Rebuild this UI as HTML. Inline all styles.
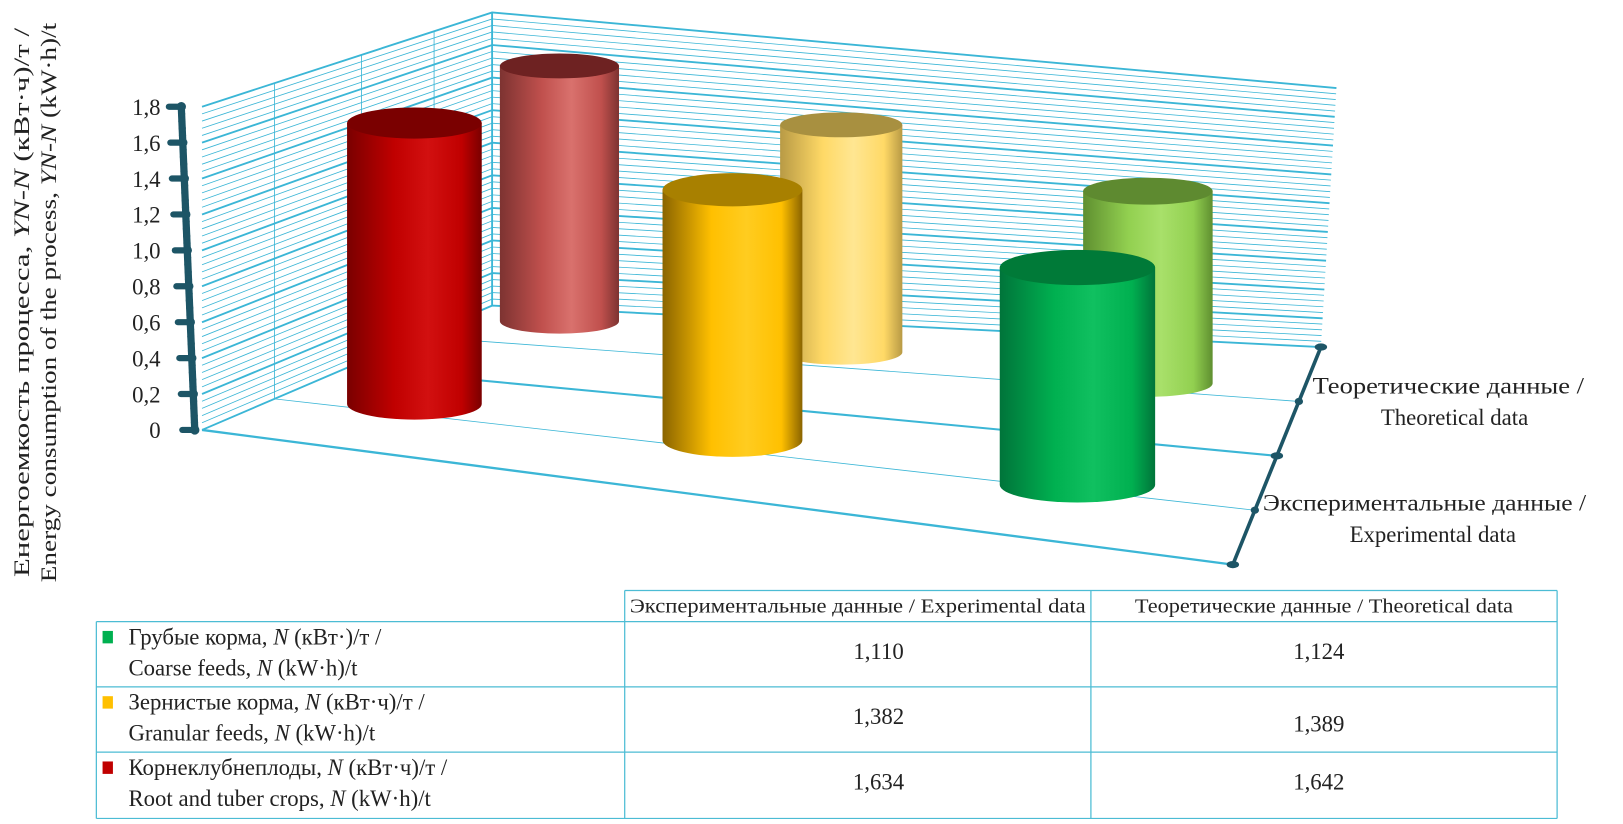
<!DOCTYPE html>
<html><head><meta charset="utf-8"><style>
html,body{margin:0;padding:0;background:#fff;}
svg{display:block;font-family:"Liberation Serif","DejaVu Serif",serif;}
</style></head><body>
<svg id="chart" width="1623" height="824" viewBox="0 0 1623 824" xmlns="http://www.w3.org/2000/svg">
<defs id="defs"></defs>
<g transform="scale(1.036)">
<g id="walls"></g>
<g id="bars"></g>
<g id="axes"></g>
<g font-size="21" fill="#222">
<text transform="translate(28,292) rotate(-90)" text-anchor="middle" textLength="530" lengthAdjust="spacingAndGlyphs">Енергоемкость процесса, <tspan font-style="italic">YN-N</tspan> (кВт·ч)/т /</text>
<text transform="translate(54,292) rotate(-90)" text-anchor="middle" textLength="540" lengthAdjust="spacingAndGlyphs">Energy consumption of the process, <tspan font-style="italic">YN-N</tspan> (kW·h)/t</text>
</g>
<g font-size="22" fill="#222">
<text x="1398" y="380" text-anchor="middle" textLength="262" lengthAdjust="spacingAndGlyphs">Теоретические данные /</text>
<text x="1404" y="410" text-anchor="middle">Theoretical data</text>
<text x="1375" y="493" text-anchor="middle" textLength="312" lengthAdjust="spacingAndGlyphs">Экспериментальные данные /</text>
<text x="1383" y="523" text-anchor="middle">Experimental data</text>
</g>
<g id="table"></g>
</g>
</svg>
<script>
const categories = ["Грубые корма", "Зернистые корма", "Корнеклубнеплоды"];
const experimental = [1.110, 1.382, 1.634];
const theoretical = [1.124, 1.389, 1.642];
const yTicks = [0, 0.2, 0.4, 0.6, 0.8, 1.0, 1.2, 1.4, 1.6, 1.8];
const yTickLabels = ["0","0,2","0,4","0,6","0,8","1,0","1,2","1,4","1,6","1,8"];
const expLabels = ["1,110","1,382","1,634"];
const theoLabels = ["1,124","1,389","1,642"];

const NS = "http://www.w3.org/2000/svg";
function el(tag, attrs, parent){const e=document.createElementNS(NS,tag);for(const k in attrs)e.setAttribute(k,attrs[k]);parent.appendChild(e);return e;}
const YMAX = 1.8;
const GRID = "#3bb6d6";
const AXIS = "#1d5566";
const FL={x:195,y:415}, FR={x:1190,y:545}, BL={x:475,y:295}, BR={x:1275,y:335};
const LT={x:195,y:103}, BLT={x:475,y:12}, BRT={x:1290,y:85};
function lerp(a,b,t){return {x:a.x+(b.x-a.x)*t,y:a.y+(b.y-a.y)*t};}
function leftWall(u,v){const b=lerp(FL,BL,u), t=lerp(LT,BLT,u);return lerp(b,t,v/YMAX);}
function backWall(s,v){const b=lerp(BL,BR,s), t=lerp(BLT,BRT,s);return lerp(b,t,v/YMAX);}
function floorPt(d,s){return lerp(lerp(FL,FR,s),lerp(BL,BR,s),d);}

const walls=document.getElementById('walls');
for(let i=0;i<=45;i++){
  const v=i*0.04; const major=(i%5===0);
  const a=leftWall(0,v), b=leftWall(1,v), c=backWall(1,v);
  const p=el('polyline',{points:`${a.x},${a.y} ${b.x},${b.y} ${c.x},${c.y}`,fill:'none',stroke:GRID,'stroke-width':major?1.8:0.8},walls);
  
  
}
[0.25,0.55,0.8,1].forEach(u=>{const a=leftWall(u,0),b=leftWall(u,YMAX);el('line',{x1:a.x,y1:a.y,x2:b.x,y2:b.y,stroke:GRID,'stroke-width':u===1?1.8:0.8},walls);});
[[0,2.2],[0.25,0.8],[0.5,2],[0.75,0.8]].forEach(([d,w])=>{const a=floorPt(d,0),b=floorPt(d,1);
  const l=el('line',{x1:a.x,y1:a.y,x2:b.x,y2:b.y,stroke:GRID,'stroke-width':w},walls);
  
  });

const axes=document.getElementById('axes');
el('line',{x1:188,y1:415,x2:175,y2:103,stroke:AXIS,'stroke-width':7},axes);
for(let i=0;i<=45;i++){const v=i*0.04;const y=415-(415-103)*v/YMAX;const x=188-13*v/YMAX;
  el('circle',{cx:x,cy:y,r:i%5===0?4.5:3.5,fill:AXIS},axes);
  if(i%5===0) el('line',{x1:x-12,y1:y,x2:x,y2:y,stroke:AXIS,'stroke-width':6,'stroke-linecap':'round'},axes);}
yTicks.forEach((v,i)=>{const y=415-(415-103)*v/YMAX;
  const t=el('text',{x:155,y:y+8,'text-anchor':'end','font-size':22,fill:'#222'},axes);t.textContent=yTickLabels[i];
  
  });
el('line',{x1:FR.x,y1:FR.y,x2:BR.x,y2:BR.y,stroke:AXIS,'stroke-width':3.5},axes);
[0,0.25,0.5,0.75,1].forEach(d=>{const p=lerp(FR,BR,d);el('ellipse',{cx:p.x,cy:p.y,rx:d%0.5===0?6:4,ry:3.5,fill:AXIS},axes);});

const defs=document.getElementById('defs');
function grad(id,dark,mid,light){const g=el('linearGradient',{id:id,x1:0,y1:0,x2:1,y2:0},defs);
  el('stop',{offset:'0',['stop-color']:dark},g);el('stop',{offset:'0.35',['stop-color']:mid},g);
  el('stop',{offset:'0.6',['stop-color']:light},g);el('stop',{offset:'0.85',['stop-color']:mid},g);el('stop',{offset:'1',['stop-color']:dark},g);}
const bars=document.getElementById('bars');
const slots={
  theo:[{cx:1108,by:370,w:125,k:165,ry:13},{cx:812,by:340,w:118,k:158,ry:12},{cx:540,by:310,w:115,k:150,ry:12}],
  exp:[{cx:1040,by:468,w:150,k:189,ry:17},{cx:707,by:425,w:135,k:175,ry:16},{cx:400,by:390,w:130,k:166,ry:15}]
};
const colors={
  theo:[["#5f8f30","#92d050","#a8e06a","#5e8a30"],["#b89a45","#ffd966","#ffe692","#a89040"],["#7d3331","#c0504d","#d9716d","#6e2222"]],
  exp:[["#00743a","#00b050","#10c060","#007a38"],["#8a6400","#ffc000","#ffcc20","#a88000"],["#7a0000","#c00000","#d21010","#7a0000"]]
};
function cyl(series,i,v,name){
  const s=slots[series][i], c=colors[series][i];
  const id=`g-${series}-${i}`; grad(id,c[0],c[1],c[2]);
  const h=v*s.k, x=s.cx-s.w/2, top=s.by-h;
  const g=el('g',{},bars);
  
  
  el('path',{d:`M${x},${top} L${x},${s.by} A${s.w/2},${s.ry} 0 0 0 ${x+s.w},${s.by} L${x+s.w},${top} Z`,fill:`url(#${id})`},g);
  el('ellipse',{cx:s.cx,cy:top,rx:s.w/2,ry:s.ry,fill:c[3]},g);
}
[2,1,0].forEach(i=>cyl('theo',i,theoretical[i],'theoretical-cylinder-'+i));
[2,1,0].forEach(i=>cyl('exp',i,experimental[i],'experimental-cylinder-'+i));

const tb=document.getElementById('table');
const TC="#4cbcd4";
const rowY=[570,600,663,726,790];
el('line',{x1:603,y1:570,x2:1503,y2:570,stroke:TC,'stroke-width':1.2},tb);
for(let r=1;r<rowY.length;r++) el('line',{x1:93,y1:rowY[r],x2:1503,y2:rowY[r],stroke:TC,'stroke-width':1.2},tb);
el('line',{x1:93,y1:600,x2:93,y2:790,stroke:TC,'stroke-width':1.2},tb);
[603,1053,1503].forEach(x=>el('line',{x1:x,y1:570,x2:x,y2:790,stroke:TC,'stroke-width':1.2},tb));
function txt(x,y,s,size,anchor,len,name){const t=el('text',{x:x,y:y,'font-size':size,fill:'#222','text-anchor':anchor||'start'},tb);
  if(len){t.setAttribute('textLength',len);t.setAttribute('lengthAdjust','spacingAndGlyphs');}
  t.innerHTML=s;   return t;}
txt(828,591,"Экспериментальные данные / Experimental data",19,'middle',440,'header-experimental');
txt(1278,591,"Теоретические данные / Theoretical data",19,'middle',365,'header-theoretical');
const legendCols=["#00b050","#ffc000","#c00000"];
const rowText=[
 ["Грубые корма, <tspan font-style='italic'>N</tspan> (кВт·)/т /","Coarse feeds, <tspan font-style='italic'>N</tspan> (kW·h)/t"],
 ["Зернистые корма, <tspan font-style='italic'>N</tspan> (кВт·ч)/т /","Granular feeds, <tspan font-style='italic'>N</tspan> (kW·h)/t"],
 ["Корнеклубнеплоды, <tspan font-style='italic'>N</tspan> (кВт·ч)/т /","Root and tuber crops, <tspan font-style='italic'>N</tspan> (kW·h)/t"]];
[0,1,2].forEach(i=>{const y0=rowY[i+1];
  const sq=el('rect',{x:99,y:y0+9,width:10,height:12,fill:legendCols[i]},tb);
  
  
  txt(124,y0+22,rowText[i][0],22,'start',null,'row-label');
  txt(124,y0+52,rowText[i][1],22,'start',null,'row-label');
  txt(848,y0+36,expLabels[i],22,'middle',null,'exp-value');
  txt(1273,y0+36+(i===1?7:0),theoLabels[i],22,'middle',null,'theo-value');
});
</script>
</body></html>
